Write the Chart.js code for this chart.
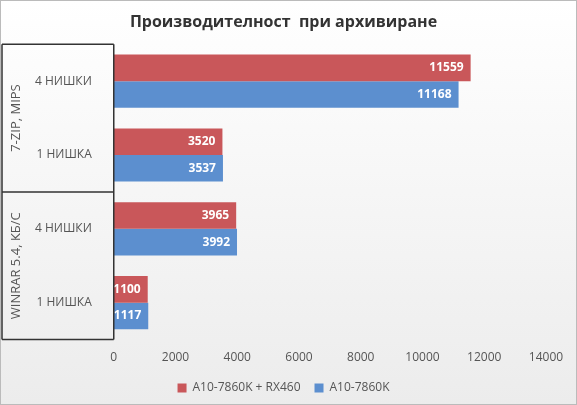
<!DOCTYPE html><html><head><meta charset="utf-8">
<script src="https://cdn.jsdelivr.net/npm/chart.js@4"></script>
<style>html,body{margin:0;padding:0}#w{width:577px;height:405px;background:linear-gradient(#ffffff,#ececec);box-sizing:border-box;border:1px solid #bbb}</style>
</head><body><div id="w"><canvas id="c" width="575" height="403"></canvas></div>
<script>
const categories=["4 НИШКИ","1 НИШКА","4 НИШКИ","1 НИШКА"];
const groups=["7-ZIP, MIPS","WINRAR 5.4, КБ/С"];
const seriesNames=["A10-7860K + RX460","A10-7860K"];
const seriesA=[11559,3520,3965,1100];
const seriesB=[11168,3537,3992,1117];
const xTicks=[0,2000,4000,6000,8000,10000,12000,14000];
const labelsPlugin={id:'lbl',afterDatasetsDraw(ch){
 const c=ch.ctx;c.save();c.font='bold 12px "Open Sans"';c.fillStyle='#fff';c.textAlign='right';c.textBaseline='middle';
 ch.data.datasets.forEach((d,i)=>{ch.getDatasetMeta(i).data.forEach((b,j)=>{c.fillText(d.data[j],b.x-7,b.y);});});
 const a=ch.chartArea;c.strokeStyle='#333';c.lineWidth=1.5;
 const t=a.top,bm=a.bottom,mid=(t+bm)/2;
 c.beginPath();[t,mid,bm].forEach(v=>{c.moveTo(1,v);c.lineTo(a.left,v);});c.moveTo(1,t);c.lineTo(1,bm);c.moveTo(a.left,t);c.lineTo(a.left,bm);c.stroke();
 c.fillStyle='#555';c.font='13px "Open Sans"';c.textAlign='center';
 [[t,mid],[mid,bm]].forEach((r,i)=>{c.save();c.translate(15,(r[0]+r[1])/2);c.rotate(-Math.PI/2);c.fillText(groups[i],0,0);c.restore();});
 c.restore();}};
new Chart(document.getElementById('c'),{type:'bar',
 data:{labels:categories,datasets:[
  {label:seriesNames[0],data:seriesA,backgroundColor:'#c9575a',categoryPercentage:0.72,barPercentage:1},
  {label:seriesNames[1],data:seriesB,backgroundColor:'#5c8fcf',categoryPercentage:0.72,barPercentage:1}]},
 options:{indexAxis:'y',responsive:false,animation:false,
  layout:{padding:{left:20,right:30,top:0}},
  plugins:{title:{display:true,text:'Производителност  при архивиране',color:'#333',font:{size:16,weight:'bold',family:'"Open Sans"'},padding:{top:12,bottom:12}},
   legend:{position:'bottom',labels:{boxWidth:9,boxHeight:9,color:'#555',font:{size:12,family:'"Open Sans"'},padding:14}},tooltip:{enabled:false}},
  scales:{x:{min:0,max:14000,afterBuildTicks(s){s.ticks=xTicks.map(v=>({value:v}));},grid:{display:false},border:{display:false},ticks:{color:'#555',callback:v=>String(v),font:{size:12,family:'"Open Sans"'}}},
   y:{grid:{display:false},border:{display:false},ticks:{color:'#555',padding:14,font:{size:12,family:'"Open Sans"'}}}}},
 plugins:[labelsPlugin]});
</script></body></html>
